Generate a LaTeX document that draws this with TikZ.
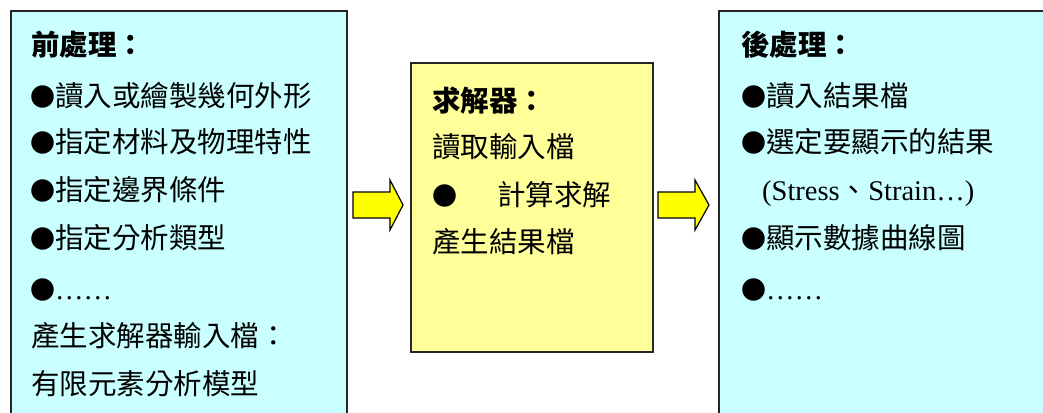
\documentclass[tikz,border=0pt]{standalone}
\usepackage{fontspec}
\setmainfont{Noto Sans CJK TC}
\newfontfamily\tnr{Liberation Serif}
\newfontfamily\cjkfont{Noto Sans CJK TC}
\newcommand{\bul}{{\fontsize{25}{25}\selectfont ●}}
\definecolor{cyanfill}{HTML}{C9FFFF}
\definecolor{paleyellow}{HTML}{FFFF99}
\definecolor{arrowyellow}{HTML}{FFFF00}
\begin{document}
\begin{tikzpicture}[x=1pt,y=-1pt,
  panel/.style={draw=black!85, line width=1.6pt, anchor=north west, inner sep=0pt},
  txt/.style={anchor=base west, inner sep=0pt, font=\fontsize{28.5}{30}\selectfont},
  ttl/.style={txt, font=\fontsize{28.5}{30}\selectfont\bfseries},
  blockarrow/.style={draw=black, line width=1.2pt, fill=arrowyellow, line join=miter}
]
\useasboundingbox (0,0) rectangle (1043,412);
\begin{scope}
\clip (0,0) rectangle (1043,412);
% panels
\node[panel, fill=cyanfill, minimum width=336pt, minimum height=430pt] (pre) at (10,10) {};
\node[panel, fill=paleyellow, minimum width=242pt, minimum height=289pt] (sol) at (410,62) {};
\node[panel, fill=cyanfill, minimum width=360pt, minimum height=430pt] (post) at (718,10) {};
% block arrows
\coordinate (a1) at (353,205);
\coordinate (a2) at (658,205);
\draw[blockarrow] (a1) ++(0,-13) -- ++(37,0) -- ++(0,-12) -- ++(13,25) -- ++(-13,25) -- ++(0,-12) -- ++(-37,0) -- cycle;
\draw[blockarrow] (a2) ++(0,-13) -- ++(37,0) -- ++(0,-12) -- ++(14,25) -- ++(-14,25) -- ++(0,-12) -- ++(-37,0) -- cycle;
% pre-processing text
\node[ttl] (p0) at (31,56) {前處理：};
\node[txt] (p1) at (30,106) {\bul 讀入或繪製幾何外形};
\node[txt] (p2) at (30,152) {\bul 指定材料及物理特性};
\node[txt] (p3) at (30,200) {\bul 指定邊界條件};
\node[txt] (p4) at (30,248) {\bul 指定分析類型};
\node[txt] (p5) at (30,299) {\bul{\tnr ……}};
\node[txt] (p6) at (31,346) {產生求解器輸入檔：};
\node[txt] (p7) at (31,394) {有限元素分析模型};
% solver text
\node[ttl] (s0) at (432,111) {求解器：};
\node[txt] (s1) at (432,157) {讀取輸入檔};
\node[txt] (s2) at (432,205) {\bul\hspace{40pt}計算求解};
\node[txt] (s3) at (432,252) {產生結果檔};
% post-processing text
\node[ttl] (q0) at (741,56) {後處理：};
\node[txt] (q1) at (741,106) {\bul 讀入結果檔};
\node[txt] (q2) at (741,152) {\bul 選定要顯示的結果};
\node[txt] (q3) at (762,200) {{\tnr (Stress}{\cjkfont 、}{\tnr Strain…)}};
\node[txt] (q4) at (741,248) {\bul 顯示數據曲線圖};
\node[txt] (q5) at (741,299) {\bul{\tnr ……}};
\end{scope}
\end{tikzpicture}
\end{document}
